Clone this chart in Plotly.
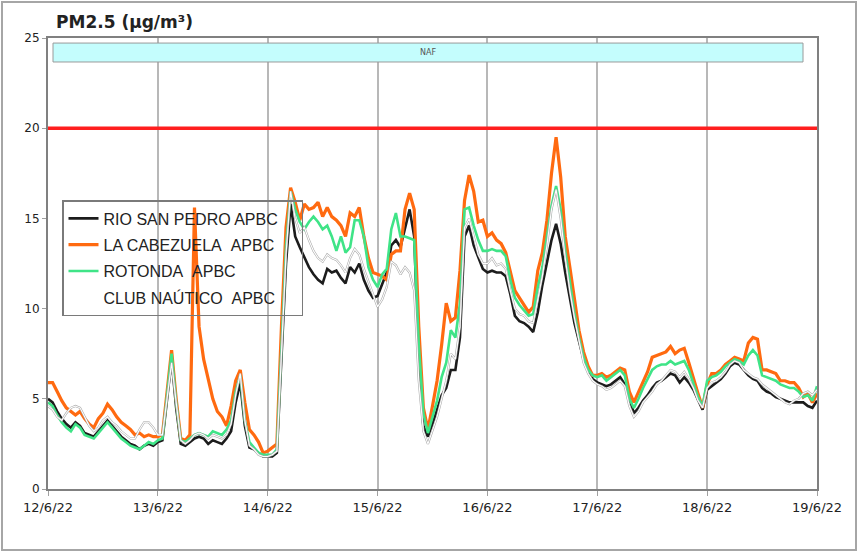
import pandas as pd
import plotly.graph_objects as go

start = "2022-06-12 00:00"
end = "2022-06-19 00:00"
times = pd.date_range(start, periods=169, freq="h")

pad = "\u00a0" * 4
series_names = ["RIO SAN PEDRO APBC", "LA CABEZUELA\u00a0\u00a0APBC", "ROTONDA\u00a0\u00a0APBC", "CLUB NAÚTICO\u00a0\u00a0APBC"]

rio_san_pedro = [5.0,4.8,4.3,3.9,3.6,3.4,3.7,3.5,3.1,3.0,
2.9,3.2,3.5,3.8,3.5,3.2,2.9,2.7,2.5,2.4,
2.2,2.4,2.5,2.4,2.6,2.7,5.0,7.2,4.5,2.5,
2.4,2.6,2.8,2.9,2.8,2.5,2.7,2.6,2.5,2.8,
3.2,4.8,5.9,3.5,2.3,2.2,2.0,1.8,1.8,1.8,
2.0,7.0,12.5,15.8,14.0,13.4,12.8,12.3,11.9,11.6,
11.4,12.2,12.0,12.1,11.7,11.4,12.3,12.0,12.5,11.6,
11.0,10.6,10.7,11.4,12.0,13.5,13.8,13.4,14.5,15.5,
14.0,7.0,3.5,2.9,3.6,4.4,5.2,5.6,6.6,6.6,
8.4,14.0,14.6,13.5,12.9,12.2,12.0,12.1,12.0,12.0,
11.8,10.8,9.6,9.3,9.2,9.0,8.7,9.8,11.3,12.6,
13.8,14.7,13.6,12.0,10.7,9.2,8.2,7.2,6.6,6.1,
5.9,5.8,5.7,5.8,6.0,6.2,5.8,5.0,4.2,4.5,
4.9,5.2,5.6,5.9,6.0,6.2,6.4,6.3,5.9,6.2,
5.9,5.5,4.9,4.4,5.5,5.7,5.9,6.1,6.4,6.8,
7.0,6.9,6.6,6.3,6.1,6.0,5.6,5.4,5.3,5.1,
5.0,4.9,4.8,4.8,4.8,4.8,4.6,4.5,4.9]

la_cabezuela = [5.9,5.9,5.4,4.9,4.5,4.3,4.1,4.3,3.9,3.6,
3.4,3.9,4.2,4.7,4.4,4.0,3.7,3.5,3.3,3.0,
3.1,2.9,3.0,2.9,2.9,3.0,5.5,7.7,5.0,2.8,
2.7,3.0,15.6,9.0,7.2,6.0,5.0,4.3,4.0,3.5,
4.6,6.0,6.6,4.8,3.3,3.0,2.6,2.0,2.1,2.3,
2.5,9.0,14.5,16.7,15.9,14.9,15.8,15.5,15.6,15.9,
15.1,15.6,15.1,14.9,14.6,14.0,15.3,15.1,15.6,14.0,
12.8,12.0,11.9,11.8,11.6,13.0,13.2,13.2,15.5,16.4,
15.5,9.0,4.5,3.3,4.6,6.0,8.0,10.3,9.3,9.5,
12.1,16.0,17.4,16.5,14.8,14.9,14.0,14.2,13.8,13.6,
13.1,12.0,11.0,10.6,10.2,9.8,10.1,12.1,13.1,14.9,
17.5,19.5,17.3,14.0,12.3,10.5,8.8,7.6,6.8,6.3,
6.3,6.4,6.2,6.3,6.5,6.7,6.6,5.4,4.8,5.4,
5.9,6.5,7.3,7.4,7.5,7.6,7.9,7.5,7.7,7.8,
7.0,6.1,5.3,4.5,5.8,6.4,6.4,6.6,6.9,7.1,
7.3,7.2,7.1,8.1,8.4,8.3,6.6,6.6,6.5,6.4,
6.0,6.0,5.9,5.9,5.6,5.1,5.3,4.8,5.3]

rotonda = [4.8,4.6,4.1,3.7,3.4,3.2,3.6,3.4,3.0,2.9,
2.8,3.1,3.4,3.7,3.4,3.1,2.8,2.6,2.4,2.3,
2.2,2.4,2.6,2.5,2.7,2.8,5.2,7.5,4.8,2.7,
2.6,2.8,3.0,3.1,3.0,2.9,3.2,3.1,3.0,3.3,
3.8,5.4,6.3,3.8,2.6,2.3,2.0,1.9,1.9,1.9,
2.2,8.0,13.5,16.5,15.5,14.8,14.4,14.8,15.1,14.8,
14.4,14.6,14.0,13.2,14.0,13.1,13.4,14.9,14.9,14.0,
12.3,11.6,11.2,11.9,12.2,14.4,15.3,14.0,14.0,13.9,
13.8,8.0,4.2,3.1,4.0,4.9,6.2,7.0,8.8,8.4,
10.3,15.5,15.6,14.6,13.8,13.2,13.2,13.3,13.2,13.2,
12.9,11.6,10.6,10.2,9.9,9.6,9.7,11.2,12.3,14.0,
15.7,16.8,15.5,13.2,11.5,9.8,8.4,7.3,6.6,6.3,
6.2,6.3,6.0,6.2,6.4,6.6,6.3,5.0,4.5,5.0,
5.6,6.1,6.6,6.8,6.9,6.9,7.1,6.9,7.0,7.1,
6.6,5.9,5.1,4.6,6.0,6.2,6.3,6.5,6.8,7.0,
7.2,7.1,6.9,7.4,7.7,7.4,6.3,6.2,6.1,6.0,
5.8,5.7,5.6,5.6,5.4,5.1,5.2,4.9,5.7]

club_nautico = [4.6,4.4,4.0,3.8,4.2,4.5,4.6,4.5,4.0,3.5,
3.2,3.4,3.8,4.0,3.7,3.5,3.2,3.0,2.8,2.8,
3.3,3.7,3.7,3.4,3.0,3.0,5.0,7.0,4.8,2.7,
2.5,2.7,3.0,3.1,3.0,2.8,3.0,2.9,2.8,3.0,
3.6,5.2,6.4,3.8,2.4,2.2,1.9,1.8,1.8,1.9,
2.1,7.5,13.0,16.5,15.0,14.2,14.5,13.8,13.2,12.8,
12.6,13.0,12.8,12.7,12.4,12.0,12.8,13.3,13.0,12.2,
11.5,10.8,10.1,10.5,11.2,12.6,12.4,11.9,12.3,12.0,
11.0,6.0,3.2,2.5,3.2,4.0,5.0,6.0,7.5,7.2,
9.0,14.5,15.0,14.0,13.0,12.5,12.5,12.8,12.4,12.5,
12.2,11.0,10.0,9.7,9.6,9.3,9.2,10.5,11.8,13.5,
15.5,16.6,15.0,12.8,11.0,9.5,8.2,7.0,6.4,6.0,
5.8,5.7,5.5,5.6,5.8,6.0,5.7,4.6,4.0,4.3,
4.8,5.1,5.4,5.8,6.0,6.3,6.6,6.5,6.2,6.5,
6.1,5.6,4.9,4.5,5.6,5.9,6.0,6.2,6.5,6.9,
7.1,7.0,6.6,6.4,6.2,6.1,5.8,5.6,5.4,5.2,
5.0,4.8,4.7,4.9,5.0,5.3,5.4,5.2,5.5]

limit_value = 20
naf_label = "NAF"
naf_band = [23.67, 24.72]
title_text = "PM2.5 (µg/m³)"

fig = go.Figure()

# limit line
fig.add_trace(go.Scatter(x=[start, end], y=[limit_value, limit_value], mode="lines",
                         line=dict(color="#ff1f1f", width=3.5), showlegend=False, hoverinfo="skip"))

fig.add_trace(go.Scatter(x=times, y=rio_san_pedro, mode="lines", name=series_names[0] + pad,
                         legendgroup="a", line=dict(color="#1c1c1c", width=2.6)))
fig.add_trace(go.Scatter(x=times, y=la_cabezuela, mode="lines", name=series_names[1] + pad,
                         legendgroup="b", line=dict(color="#ff6a10", width=3.2)))
fig.add_trace(go.Scatter(x=times, y=rotonda, mode="lines", name=series_names[2] + pad,
                         legendgroup="c", line=dict(color="#3fe487", width=2.6)))
fig.add_trace(go.Scatter(x=times, y=club_nautico, mode="lines", showlegend=False,
                         legendgroup="d", line=dict(color="#a8a8a8", width=2.2), hoverinfo="skip"))
fig.add_trace(go.Scatter(x=times, y=club_nautico, mode="lines", name=series_names[3] + pad,
                         legendgroup="d", line=dict(color="#ffffff", width=1.1)))

# plot-area geometry (pixels): left 48, right 817, top 38, bottom 489
L, R, T, B = 48, 817, 38, 489
W, H = 859, 554
pw, ph = R - L, B - T

def px(xp):
    return (xp - L) / pw

def py(yp):
    return (B - yp) / ph

fig.update_layout(
    width=W, height=H,
    margin=dict(l=L, r=W - R, t=T, b=H - B),
    paper_bgcolor="white", plot_bgcolor="white",
    font=dict(family="DejaVu Sans", size=12, color="#222222"),
    showlegend=True,
    legend=dict(x=px(62), y=py(200), xanchor="left", yanchor="top",
                bgcolor="rgba(255,255,255,0)", bordercolor="#7a7a7a", borderwidth=1.5,
                font=dict(family="Liberation Sans", size=16, color="#222222"),
                tracegroupgap=2.5, itemwidth=30),
    xaxis=dict(type="date", range=[start, end], dtick=86400000, tickformat="%-d/%-m/%y",
               showgrid=True, gridcolor="#b8b8b8", gridwidth=2,
               showline=True, linecolor="#808080", linewidth=2, mirror=True,
               ticks="outside", ticklen=5, tickcolor="#a0a0a0",
               tickfont=dict(family="DejaVu Sans", size=13, color="#222222"),
               zeroline=False),
    yaxis=dict(range=[0, 25], dtick=5, showgrid=False,
               showline=True, linecolor="#808080", linewidth=2, mirror=True,
               ticks="outside", ticklen=4, tickcolor="#a0a0a0",
               tickfont=dict(family="DejaVu Sans", size=12, color="#222222"),
               zeroline=False),
    shapes=[
        dict(type="rect", xref="paper", yref="y", x0=px(53), x1=px(803),
             y0=naf_band[0], y1=naf_band[1], fillcolor="#c4fdfd",
             line=dict(color="#9a9a9a", width=1), layer="above"),
        dict(type="rect", xref="paper", yref="paper", x0=px(2), x1=px(856),
             y0=py(550), y1=py(2), line=dict(color="#a6a6a6", width=2),
             fillcolor="rgba(0,0,0,0)"),
    ],
    annotations=[
        dict(text=naf_label, xref="paper", yref="y", x=px(428),
             y=(naf_band[0] + naf_band[1]) / 2, showarrow=False,
             font=dict(family="DejaVu Sans", size=8, color="#555555")),
        dict(text="<b>" + title_text + "</b>", xref="paper", yref="paper",
             x=px(54), y=py(22), xanchor="left", yanchor="middle", showarrow=False,
             font=dict(family="DejaVu Sans", size=17, color="#222222")),
    ],
)

fig.write_html("out.html", config={"displayModeBar": False},
               post_script="document.body.style.margin='0';")
